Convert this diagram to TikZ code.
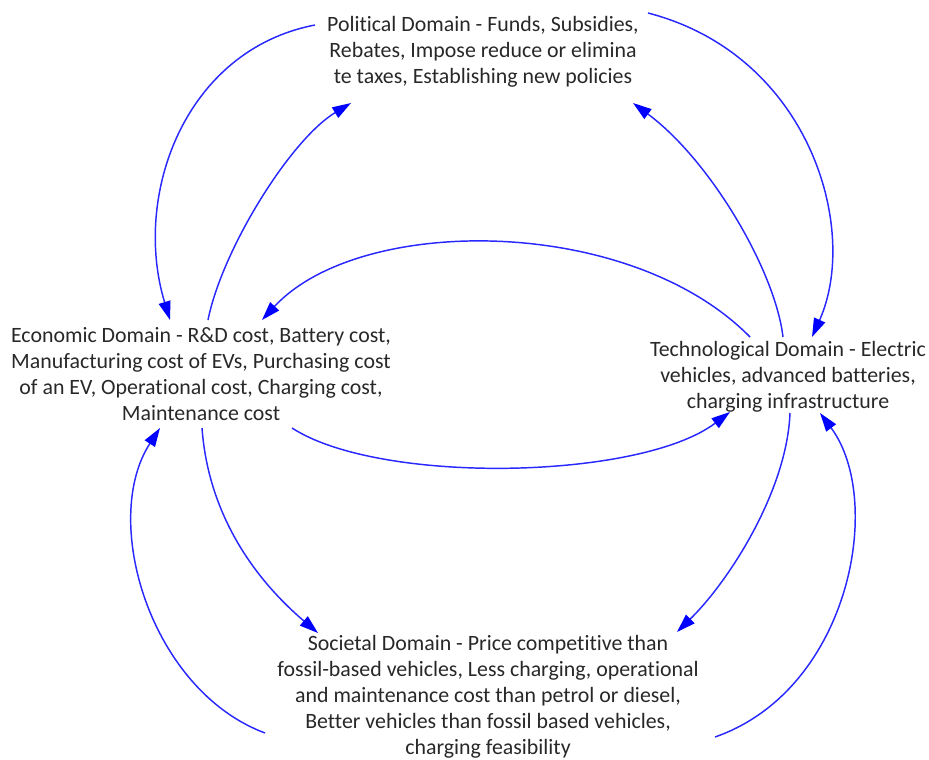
\documentclass[tikz,border=0pt]{standalone}
\usepackage{fontspec}
\setmainfont{Carlito}[Ligatures=NoCommon]
\usepackage{xcolor}
\usetikzlibrary{arrows.meta,calc}

\definecolor{txtgray}{RGB}{40,40,40}
\definecolor{flowblue}{RGB}{40,40,255}

\begin{document}
\begin{tikzpicture}[x=0.75pt,y=-0.75pt,
		domainbox/.style={align=center,inner sep=0pt,text=txtgray,font=\fontsize{16.4pt}{19.6pt}\selectfont},
		flow/.style={draw=flowblue,line width=1.1pt,-{Triangle[length=14pt,width=9pt,color=blue]}}]
		\useasboundingbox (0,0) rectangle (929,760);
		% the four domains
		\node[domainbox] (pol) at (483,52) {Political Domain - Funds, Subsidies,\\Rebates, Impose reduce or elimina\\te taxes, Establishing new policies};
		\node[domainbox] (eco) at (201,374) {Economic Domain - R\&D cost, Battery cost,\\Manufacturing cost of EVs, Purchasing cost\\of an EV, Operational cost, Charging cost,\\Maintenance cost};
		\node[domainbox] (tech) at (788,377) {Technological Domain - Electric\\vehicles, advanced batteries,\\charging infrastructure};
		\node[domainbox] (soc) at (488,697) {Societal Domain - Price competitive than\\fossil-based vehicles, Less charging, operational\\and maintenance cost than petrol or diesel,\\Better vehicles than fossil based vehicles,\\charging feasibility};
		% political <-> economic
		\draw[flow] ($(pol)+(-168,-27)$) .. controls +(-130,25) and +(-38,-125) .. ($(eco)+(-31,-54)$);
		\draw[flow] ($(eco)+(7,-54)$) .. controls +(14,-70) and +(-61,37) .. ($(pol)+(-132,51)$);
		% political <-> technological
		\draw[flow] ($(pol)+(165,-39)$) .. controls +(162,42) and +(48,-107) .. ($(tech)+(24,-40)$);
		\draw[flow] ($(tech)+(-5,-40)$) .. controls +(-8,-67) and +(77,57) .. ($(pol)+(150,51)$);
		% economic <-> technological
		\draw[flow] ($(tech)+(-38,-40)$) .. controls +(-120,-122) and +(98,-106) .. ($(eco)+(61,-54)$);
		\draw[flow] ($(eco)+(91,54)$) .. controls +(88,57) and +(-90,68) .. ($(tech)+(-58,35)$);
		% into the societal domain
		\draw[flow] ($(eco)+(1,54)$) .. controls +(6,82) and +(-68,-58) .. ($(soc)+(-170,-64)$);
		\draw[flow] ($(tech)+(2,36)$) .. controls +(-3,77) and +(53,-52) .. ($(soc)+(189,-65)$);
		% back from the societal domain
		\draw[flow] ($(soc)+(-223,36)$) .. controls +(-115,-43) and +(-60,92) .. ($(eco)+(-41,54)$);
		\draw[flow] ($(soc)+(227,40)$) .. controls +(135,-47) and +(65,87) .. ($(tech)+(32,36)$);
\end{tikzpicture}
\end{document}
